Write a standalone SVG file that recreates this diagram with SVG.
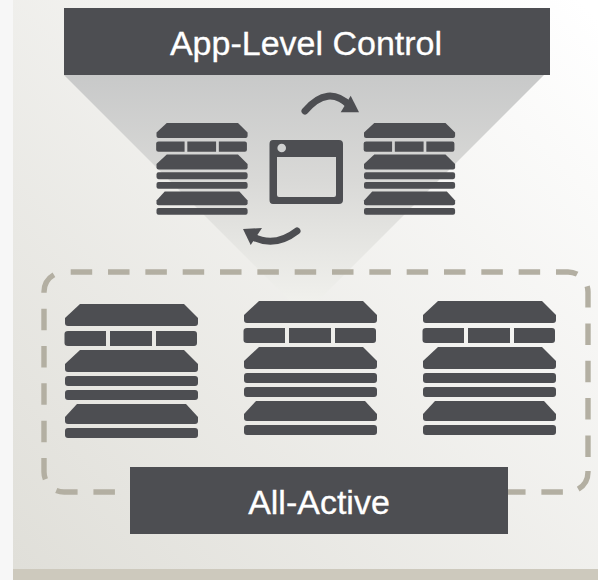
<svg xmlns="http://www.w3.org/2000/svg" width="598" height="580" viewBox="0 0 598 580">
<style>
.d{fill:#4d4e52}
.t{font-family:"Liberation Sans",Arial,sans-serif;font-size:34px;fill:#fff;stroke:#fff;stroke-width:.3;text-anchor:middle}
.dash{fill:none;stroke:#b3afa2;stroke-width:5.400;stroke-dasharray:21.500 15.830}
.arc{fill:none;stroke:#4d4e52;stroke-width:7;stroke-linecap:round}
</style>
<defs>
<linearGradient id="bg" gradientUnits="userSpaceOnUse" x1="590" y1="10" x2="20" y2="570"><stop offset="0" stop-color="#ffffff"/><stop offset="1" stop-color="#e0dfd9"/></linearGradient>
<linearGradient id="tri" gradientUnits="userSpaceOnUse" x1="0" y1="75" x2="0" y2="300"><stop offset="0" stop-color="#c8c9c9"/><stop offset=".47" stop-color="#d9d9d7"/><stop offset=".69" stop-color="#e3e3e0"/><stop offset="1" stop-color="#f0f0ec"/></linearGradient>
<g id="srv">
<path d="M15 0H119L133 14V19Q133 22 130 22H3Q0 22 0 19V14Z"/>
<path d="M3 27H41V42H3Q-.5 42 -.5 39V30Q-.5 27 3 27ZM45 27H87V42H45ZM91 27H129Q132 27 132 30V39Q132 42 129 42H91Z"/>
<path d="M15 46H119L133 60V65Q133 68 130 68H3Q0 68 0 65V60Z"/>
<rect x="0" y="72" width="133" height="10" rx="3"/>
<rect x="0" y="86" width="133" height="10" rx="3"/>
<path d="M12 100H121L133 113V117Q133 120 130 120H3Q0 120 0 117V113Z"/>
<rect x="0" y="124" width="133" height="10" rx="3"/>
</g>
</defs>
<rect width="598" height="580" fill="#f7f7f7"/>
<rect x="13" y="0" width="585" height="570" fill="url(#bg)"/>
<rect x="13" y="569" width="585" height="11" fill="#cdc9bd"/>
<path d="M64 75H544L304 315Z" fill="url(#tri)"/>
<g id="connectors">
<path class="arc" d="M305 111Q328 84 350 106"/>
<path class="d" d="M350.700 95.700L359 112.300H340.700Z"/>
<path class="arc" d="M297 231Q275 248 253 237"/>
<path class="d" d="M243 229L262 228L250.700 245Z"/>
</g>
<g id="group-border">
<path class="dash" d="M70.700 272H568A20 20 0 0 1 588 292V458"/>
<path class="dash" d="M588 471V472A20 20 0 0 1 568 492H64A20 20 0 0 1 44 472V292A20 20 0 0 1 64 272H68"/>
</g>
<g id="top-label"><rect class="d" x="64" y="8" width="486" height="67"/><text class="t" x="306" y="55">App-Level Control</text></g>
<g id="bottom-label"><rect class="d" x="130" y="467" width="378" height="67"/><text class="t" x="319" y="514">All-Active</text></g>
<g id="small-server-left" class="d"><use href="#srv" transform="translate(156.500 123) scale(.685)"/></g>
<g id="small-server-right" class="d"><use href="#srv" transform="translate(364 123) scale(.685)"/></g>
<g id="app-window"><path class="d" fill-rule="evenodd" d="M273 140H339Q343 140 343 144V200Q343 204 339 204H273Q269.500 204 269.500 200V144Q269.500 140 273 140ZM277 157V195Q277 197 279 197H334Q336 197 336 195V157Z"/><circle cx="281.700" cy="148" r="4.300" fill="#d0d1d1"/></g>
<g id="server-1" class="d"><use href="#srv" transform="translate(65 304)"/></g>
<g id="server-2" class="d"><use href="#srv" transform="translate(244 301)"/></g>
<g id="server-3" class="d"><use href="#srv" transform="translate(423 301)"/></g>
</svg>
